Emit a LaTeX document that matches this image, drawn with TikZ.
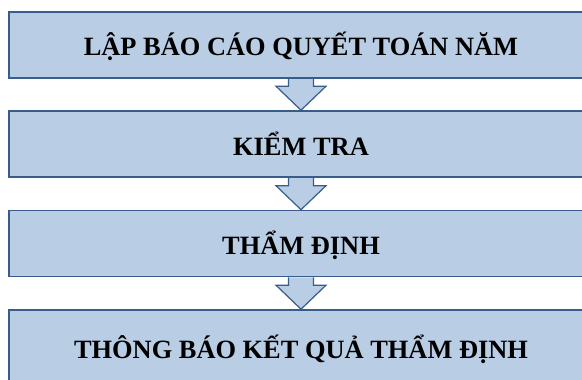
\documentclass[tikz,border=0pt]{standalone}
\usepackage{fontspec}
\setmainfont{Liberation Serif}
\usetikzlibrary{calc,backgrounds}
\definecolor{boxfill}{RGB}{185,205,229}
\definecolor{boxline}{RGB}{56,93,138}
\begin{document}
\begin{tikzpicture}[x=1pt,y=-1pt,
  stepbox/.style={draw=boxline,line width=1.6pt,fill=boxfill,rectangle,
    minimum width=584pt,minimum height=66pt,inner sep=0pt,
    text height=22pt,text depth=0pt,
    font=\fontsize{26.4pt}{30pt}\selectfont\bfseries},
  blockarrow/.style={draw=boxline,line width=1.2pt,fill=boxfill,line join=miter}]
\useasboundingbox (0,0) rectangle (582,380);
\node[stepbox] (b1) at (301,45) {LẬP BÁO CÁO QUYẾT TOÁN NĂM};
\node[stepbox] (b2) at (301,144) {KIỂM TRA};
\node[stepbox] (b3) at (301,243.5) {THẨM ĐỊNH};
\node[stepbox,minimum height=74pt] (b4) at (301,347) {THÔNG BÁO KẾT QUẢ THẨM ĐỊNH};
\begin{scope}[on background layer]
\fill[white] (0,0) rectangle (582,380);
\foreach \a/\b in {b1/b2,b2/b3,b3/b4}{
  \draw[blockarrow] ($(\a.south)+(-12.5,0)$) -- ($(\b.north)+(-12.5,-24)$)
    -- ($(\b.north)+(-25,-24)$) -- (\b.north) -- ($(\b.north)+(25,-24)$)
    -- ($(\b.north)+(12.5,-24)$) -- ($(\a.south)+(12.5,0)$);
}
\end{scope}
\end{tikzpicture}
\end{document}
